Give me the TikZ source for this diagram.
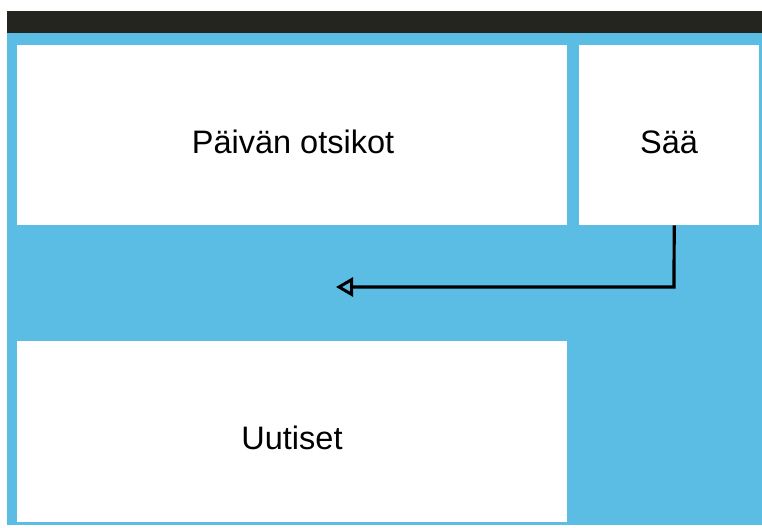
\documentclass[tikz,border=0pt]{standalone}
\usepackage{fontspec}
\setmainfont{Liberation Sans}
\usetikzlibrary{arrows.meta}
\definecolor{skyblue}{HTML}{5BBDE3}
\definecolor{darkbar}{HTML}{252520}
\begin{document}
\begin{tikzpicture}[x=1pt,y=-1pt,
  panel/.style={fill=white, draw=none, anchor=north west, inner sep=0pt},
  label/.style={anchor=base, font=\fontsize{32.5}{36}\selectfont, text=black, inner sep=0pt},
  flow/.style={line width=3.2pt, line join=miter, -{Triangle[open, length=17pt, width=19pt, line width=3pt]}}]
\useasboundingbox (0,0) rectangle (762,527);
\fill[white] (0,0) rectangle (762,527);
\fill[darkbar] (7,11) rectangle (762,33);
\fill[skyblue] (7,33) rectangle (762,525);
\node[panel, minimum width=550pt, minimum height=180pt] (head) at (17,45) {};
\node[panel, minimum width=180pt, minimum height=180pt] (saa) at (579,45) {};
\node[panel, minimum width=550pt, minimum height=181pt] (news) at (17,341) {};
\node[label] (headt) at (293,153) {Päivän otsikot};
\node[label] (saat) at (669,153) {Sää};
\node[label] (newst) at (292,449) {Uutiset};
\coordinate (turn) at (674,287);
\coordinate (tip) at (336,287);
\draw[flow] ([xshift=5pt]saa.south) -- (turn) -- (tip);
\end{tikzpicture}
\end{document}
